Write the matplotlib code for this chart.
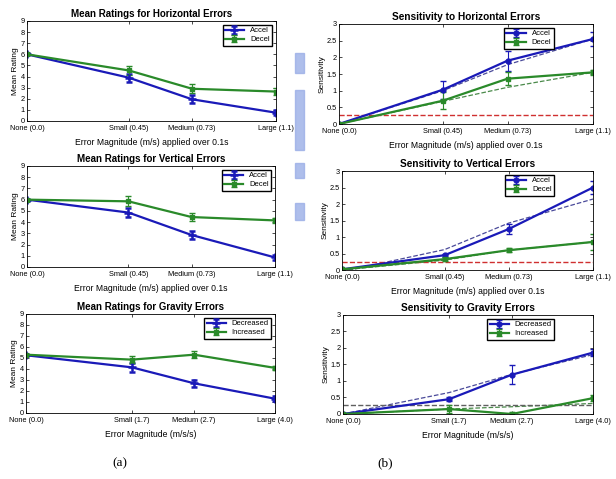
import matplotlib
matplotlib.use('Agg')
import matplotlib.pyplot as plt
from matplotlib.patches import Rectangle

plt.rcParams['font.family'] = ['Liberation Sans', 'DejaVu Sans']

# Error magnitudes (x positions) and tick labels
x_motion = [0, 0.45, 0.73, 1.1]
motion_labels = ['None (0.0)', 'Small (0.45)', 'Medium (0.73)', 'Large (1.1)']
x_grav = [0, 1.7, 2.7, 4.0]
grav_labels = ['None (0.0)', 'Small (1.7)', 'Medium (2.7)', 'Large (4.0)']

# Mean ratings
horiz_accel = [6.0, 3.9, 1.95, 0.75]
horiz_accel_err = [0.1, 0.35, 0.35, 0.2]
horiz_decel = [6.0, 4.55, 2.9, 2.65]
horiz_decel_err = [0.1, 0.4, 0.4, 0.3]

vert_accel = [6.0, 4.85, 2.85, 0.85]
vert_accel_err = [0.1, 0.4, 0.35, 0.2]
vert_decel = [6.0, 5.85, 4.45, 4.15]
vert_decel_err = [0.1, 0.45, 0.35, 0.2]

grav_dec = [5.25, 4.15, 2.7, 1.3]
grav_dec_err = [0.1, 0.4, 0.3, 0.2]
grav_inc = [5.3, 4.85, 5.3, 4.1]
grav_inc_err = [0.1, 0.35, 0.3, 0.2]

# Sensitivity
sh_accel = [0.0, 1.03, 1.9, 2.55]
sh_accel_err = [0.0, 0.27, 0.3, 0.2]
sh_decel = [0.0, 0.7, 1.36, 1.55]
sh_decel_err = [0.0, 0.25, 0.2, 0.08]
sh_accel_fit = [0.0, 1.0, 1.78, 2.55]
sh_decel_fit = [0.0, 0.68, 1.1, 1.55]
sh_thresh = 0.27

sv_accel = [0.02, 0.45, 1.24, 2.5]
sv_accel_err = [0.0, 0.05, 0.15, 0.2]
sv_decel = [0.02, 0.33, 0.6, 0.85]
sv_decel_err = [0.0, 0.05, 0.06, 0.25]
sv_accel_fit = [-0.05, 0.62, 1.42, 2.15]
sv_decel_fit = [0.0, 0.3, 0.6, 0.85]
sv_thresh = 0.25

sg_dec = [0.0, 0.45, 1.19, 1.86]
sg_dec_err = [0.0, 0.05, 0.28, 0.1]
sg_inc = [0.0, 0.15, 0.0, 0.48]
sg_inc_err = [0.0, 0.12, 0.05, 0.1]
sg_dec_fit = [0.0, 0.65, 1.2, 1.8]
sg_inc_fit = [0.0, 0.15, 0.22, 0.32]
sg_thresh = 0.26

BLUE = '#1a1ab8'
GREEN = '#2a8a2a'

fig = plt.figure(figsize=(6.16, 4.79), dpi=100)


def style_axes(ax, xs, xlabels, title, xlabel, ylabel, tsize):
    ax.set_xlim(xs[0], xs[-1])
    ax.set_xticks(xs)
    ax.set_xticklabels(xlabels, fontsize=5.3)
    ax.tick_params(direction='in', top=True, right=True, length=2.5,
                   width=0.5, labelsize=5.3, pad=1.5)
    ax.tick_params(axis='x', pad=3)
    ax.set_title(title, fontsize=tsize, fontweight='bold', pad=3)
    ax.set_xlabel(xlabel, fontsize=6.2, labelpad=4)
    ax.set_ylabel(ylabel, fontsize=6, labelpad=1)
    for s in ax.spines.values():
        s.set_linewidth(0.6)


def rating_plot(rect, xs, xlabels, y1, e1, y2, e2, names, title, xlabel):
    ax = fig.add_axes(rect)
    ax.errorbar(xs, y1, yerr=e1, color=BLUE, marker='+', ms=6, mew=1.8,
                lw=1.6, capsize=2, elinewidth=0.8, label=names[0])
    ax.errorbar(xs, y2, yerr=e2, color=GREEN, marker='s', ms=3.5,
                lw=1.6, capsize=2, elinewidth=0.8, label=names[1])
    ax.set_ylim(0, 9)
    ax.set_yticks(range(10))
    style_axes(ax, xs, xlabels, title, xlabel, 'Mean Rating', 7)
    ax.legend(loc='upper right', fontsize=5.5, handlelength=2.5,
              fancybox=False, edgecolor='black', framealpha=1,
              borderpad=0.3, labelspacing=0.2)
    return ax


def sens_plot(rect, xs, xlabels, y1, e1, y2, e2, f1, f2, thr, thr_color,
              names, title, xlabel):
    ax = fig.add_axes(rect)
    ax.plot(xs, f1, color='#4a4a9a', ls='--', lw=0.9)
    ax.plot(xs, f2, color='#4a8a4a', ls='--', lw=0.9)
    ax.axhline(thr, color=thr_color, ls='--', lw=1.0)
    ax.errorbar(xs, y1, yerr=e1, color=BLUE, marker='o', ms=3.5,
                lw=1.6, capsize=2, elinewidth=0.8, label=names[0])
    ax.errorbar(xs, y2, yerr=e2, color=GREEN, marker='s', ms=3.5,
                lw=1.6, capsize=2, elinewidth=0.8, label=names[1])
    ax.set_ylim(0, 3)
    ax.set_yticks([0, 0.5, 1, 1.5, 2, 2.5, 3])
    ax.set_yticklabels(['0', '0.5', '1', '1.5', '2', '2.5', '3'])
    style_axes(ax, xs, xlabels, title, xlabel, 'Sensitivity', 7.3)
    ax.legend(loc='upper right', bbox_to_anchor=(0.86, 1.0), fontsize=5.5,
              handlelength=2.5, fancybox=False, edgecolor='black',
              framealpha=1, borderpad=0.3, labelspacing=0.2)
    return ax


xl_motion = 'Error Magnitude (m/s) applied over 0.1s'
xl_grav = 'Error Magnitude (m/s/s)'

rating_plot([0.0438, 0.7474, 0.404, 0.2088], x_motion, motion_labels,
            horiz_accel, horiz_accel_err, horiz_decel, horiz_decel_err,
            ['Accel', 'Decel'], 'Mean Ratings for Horizontal Errors', xl_motion)
rating_plot([0.0438, 0.4426, 0.4026, 0.2109], x_motion, motion_labels,
            vert_accel, vert_accel_err, vert_decel, vert_decel_err,
            ['Accel', 'Decel'], 'Mean Ratings for Vertical Errors', xl_motion)
rating_plot([0.0422, 0.1378, 0.4042, 0.2067], x_grav, grav_labels,
            grav_dec, grav_dec_err, grav_inc, grav_inc_err,
            ['Decreased', 'Increased'], 'Mean Ratings for Gravity Errors', xl_grav)

sens_plot([0.5503, 0.7411, 0.4123, 0.2088], x_motion, motion_labels,
          sh_accel, sh_accel_err, sh_decel, sh_decel_err,
          sh_accel_fit, sh_decel_fit, sh_thresh, '#d03030',
          ['Accel', 'Decel'], 'Sensitivity to Horizontal Errors', xl_motion)
sens_plot([0.5552, 0.4363, 0.4075, 0.2067], x_motion, motion_labels,
          sv_accel, sv_accel_err, sv_decel, sv_decel_err,
          sv_accel_fit, sv_decel_fit, sv_thresh, '#d03030',
          ['Accel', 'Decel'], 'Sensitivity to Vertical Errors', xl_motion)
sens_plot([0.5568, 0.1357, 0.4058, 0.2067], x_grav, grav_labels,
          sg_dec, sg_dec_err, sg_inc, sg_inc_err,
          sg_dec_fit, sg_inc_fit, sg_thresh, '#606060',
          ['Decreased', 'Increased'], 'Sensitivity to Gravity Errors', xl_grav)

# faint watermark blocks between the columns
for y0, h in [(53, 20), (90, 60), (163, 15), (203, 17)]:
    fig.patches.append(Rectangle((295 / 616, 1 - (y0 + h) / 479), 9 / 616, h / 479,
                                 transform=fig.transFigure, color='#9aaee6',
                                 alpha=0.8, zorder=0))

fig.text(120 / 616, 1 - 463 / 479, '(a)', family='Liberation Serif',
         fontsize=9.5, ha='center', va='center')
fig.text(385 / 616, 1 - 463 / 479, '(b)', family='Liberation Serif',
         fontsize=9.5, ha='center', va='center')

fig.savefig('out.png', dpi=100)
